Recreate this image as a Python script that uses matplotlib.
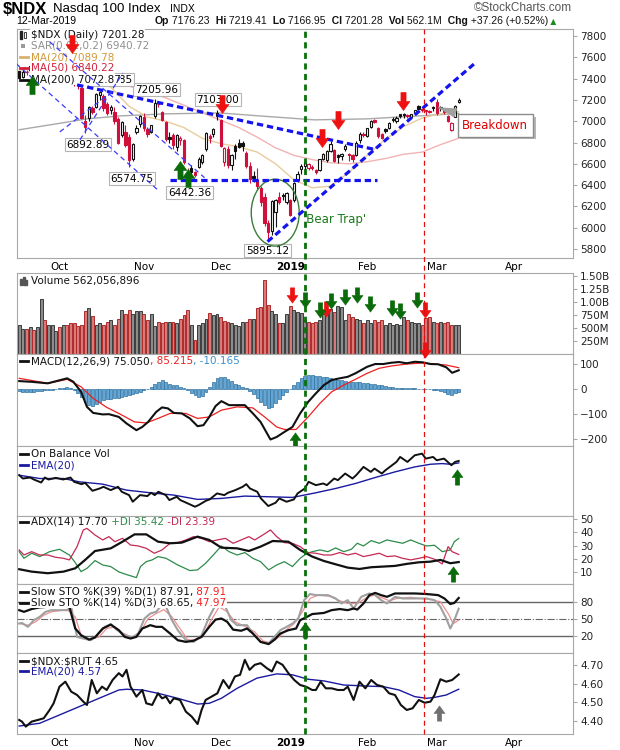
import numpy as np
import matplotlib
matplotlib.use("Agg")
import matplotlib.pyplot as plt
import matplotlib.transforms as mtransforms
import matplotlib.patheffects as pe
from matplotlib.lines import Line2D
from matplotlib.patches import Ellipse, Rectangle
from matplotlib.path import Path

plt.rcParams['font.family'] = ['DejaVu Sans']

# trading days 17-Sep-2018 .. 12-Mar-2019 -> index 0..120
opens = [7470, 7415, 7465, 7485, 7530, 7460, 7510, 7530, 7530, 7555,
         7650, 7630, 7640, 7620, 7510, 7370, 7350, 7310, 7000, 7030,
         7120, 7130, 7250, 7240, 7160, 7110, 7090, 7020, 6870, 6900,
         6850, 6650, 6900, 6970, 7040, 6930, 6900, 7050, 7165, 7090,
         6990, 6850, 6870, 6760, 6820, 6820, 6500, 6560, 6520, 6570,
         6620, 6740, 6860, 6880, 7080, 7010, 6620, 6740, 6590, 6770,
         6800, 6800, 6700, 6580, 6490, 6450, 6370, 6290, 6040, 5970,
         6150, 6290, 6310, 6240, 6260, 6260, 6450, 6550, 6580, 6560,
         6570, 6540, 6540, 6650, 6640, 6720, 6730, 6680, 6670, 6740,
         6690, 6680, 6680, 6820, 6880, 6860, 6950, 7010, 6940, 6880,
         6930, 6940, 7010, 7000, 7065, 7070, 7060, 7040, 7080, 7140,
         7115, 7095, 7100, 7120, 7180, 7130, 7110, 7050, 6920, 7040,
         7176.23]
highs = [7475, 7480, 7480, 7525, 7535, 7510, 7535, 7565, 7585, 7630,
         7670, 7650, 7680, 7625, 7530, 7380, 7355, 7320, 7060, 7140,
         7140, 7265, 7287.85, 7260, 7180, 7150, 7130, 7040, 7000, 6960,
         6880, 6800, 6960, 7060, 7080, 6945, 6965, 7205.96, 7185, 7100,
         7000, 6900, 6890, 6880, 6860, 6830, 6560, 6590, 6530, 6660,
         6690, 6895, 6880, 6935, 7103.00, 7020, 6760, 6770, 6690, 6790,
         6830, 6810, 6720, 6620, 6530, 6560, 6390, 6330, 6070, 6260,
         6270, 6340, 6330, 6340, 6270, 6430, 6530, 6600, 6640, 6610,
         6590, 6550, 6650, 6700, 6730, 6810, 6740, 6690, 6700, 6790,
         6700, 6690, 6810, 6900, 6900, 6940, 7010, 7020, 6945, 6890,
         6940, 6995, 7040, 7045, 7070, 7080, 7070, 7070, 7110, 7150,
         7125, 7110, 7110, 7145, 7210, 7140, 7115, 7060, 6990, 7150,
         7219.41]
lows = [7395, 7410, 7430, 7480, 7475, 7440, 7495, 7495, 7525, 7550,
        7605, 7585, 7620, 7480, 7380, 7330, 7300, 7020, 6892.89, 7000,
        7070, 7120, 7200, 7100, 7060, 7070, 6970, 6790, 6850, 6760,
        6574.75, 6630, 6880, 6950, 6910, 6850, 6890, 7030, 7130, 7000,
        6810, 6800, 6740, 6720, 6780, 6600, 6442.36, 6500, 6480, 6560,
        6600, 6720, 6800, 6850, 7010, 6760, 6580, 6560, 6540, 6650,
        6750, 6720, 6560, 6420, 6430, 6360, 6200, 6020, 5895.12, 5930,
        6010, 6220, 6260, 6220, 6110, 6240, 6430, 6500, 6550, 6540,
        6540, 6500, 6530, 6640, 6620, 6710, 6620, 6610, 6640, 6720,
        6630, 6620, 6670, 6800, 6850, 6850, 6940, 6980, 6840, 6830,
        6890, 6930, 6995, 6980, 7030, 7035, 7030, 7030, 7075, 7100,
        7090, 7060, 7075, 7100, 7060, 7100, 7070, 6990, 6910, 7040,
        7166.95]
closes = [7405, 7465, 7460, 7515, 7480, 7505, 7525, 7505, 7565, 7627,
          7640, 7620, 7645, 7510, 7430, 7360, 7340, 7030, 6945, 7130,
          7090, 7260, 7270, 7125, 7075, 7130, 7000, 6800, 6990, 6780,
          6640, 6790, 6935, 7050, 6940, 6880, 6960, 7175, 7160, 7010,
          6830, 6835, 6775, 6870, 6845, 6615, 6480, 6520, 6495, 6650,
          6680, 6890, 6840, 6930, 7050, 6770, 6750, 6590, 6680, 6720,
          6760, 6770, 6580, 6460, 6470, 6390, 6240, 6040, 5960, 6250,
          6265, 6240, 6300, 6330, 6120, 6420, 6500, 6580, 6620, 6600,
          6560, 6525, 6645, 6690, 6720, 6790, 6630, 6660, 6690, 6770,
          6680, 6650, 6800, 6880, 6870, 6935, 7005, 6995, 6860, 6845,
          6910, 6985, 7020, 7030, 7045, 7060, 7045, 7065, 7105, 7115,
          7108, 7100, 7090, 7130, 7080, 7120, 7085, 7005, 6980, 7145,
          7201.28]
volume_m = [555, 472, 485, 510, 460, 523, 1065, 663, 555, 555,
            440, 523, 567, 555, 587, 587, 535, 555, 829, 893,
            727, 555, 587, 567, 619, 650, 555, 682, 855, 765,
            855, 778, 823, 823, 778, 650, 778, 535, 619, 600,
            619, 606, 619, 600, 682, 746, 842, 555, 268, 567,
            600, 682, 797, 746, 778, 714, 631, 606, 587, 567,
            535, 606, 619, 682, 670, 893, 906, 1416, 938, 823,
            778, 587, 587, 778, 919, 842, 810, 791, 650, 619,
            587, 619, 650, 778, 778, 874, 810, 919, 906, 663,
            765, 714, 682, 663, 587, 650, 587, 650, 619, 650,
            555, 600, 555, 574, 555, 714, 663, 619, 587, 587,
            555, 695, 714, 619, 600, 606, 587, 606, 567, 567,
            562.06]

month_pos = [10, 33, 54, 73, 94, 113, 134]
month_lbl = ['Oct', 'Nov', 'Dec', '2019', 'Feb', 'Mar', 'Apr']

# moving averages on the price panel
ma20_x = [0, 5, 10, 15, 20, 25, 30, 35, 40, 45, 50, 55, 60, 65, 70, 75, 80, 85, 90, 95, 100, 105, 110, 115, 120]
ma20 = [7480, 7500, 7540, 7500, 7390, 7320, 7140, 7040, 7000, 6940, 6840, 6790, 6760, 6710, 6600, 6450,
        6375, 6390, 6520, 6680, 6830, 6950, 7030, 7070, 7089.78]
ma50_x = [0, 10, 20, 30, 40, 50, 55, 60, 65, 70, 75, 80, 85, 90, 95, 100, 105, 110, 115, 120]
ma50 = [7460, 7470, 7420, 7330, 7220, 7080, 7010, 6940, 6850, 6750, 6680, 6640, 6610, 6600, 6620, 6650,
        6690, 6710, 6780, 6840.22]
ma200_x = [0, 8.4, 18.5, 27.5, 39.7, 54.7, 65.6, 80.6, 94.8, 109.2, 120]
ma200 = [6920, 6966, 7022, 7050, 7069, 7078, 7050, 7013, 7022, 7050, 7072.87]

# MACD(12,26,9)
macd_x = [0, 3.4, 7.8, 13.1, 14.8, 16.9, 18.5, 20.2, 22.8, 24.5, 27.2, 29.3, 32.0, 33.6, 35.2, 37.4, 39.0,
          40.6, 42.2, 44.4, 46.6, 48.7, 50.3, 51.9, 53.6, 55.2, 57.3, 59.5, 61.6, 63.8, 65.9, 68.6, 70.3,
          72.4, 74.6, 76.7, 78.9, 81.0, 83.2, 85.3, 87.5, 89.7, 91.8, 93.4, 95.0, 97.2, 99.4, 101.5, 103.7,
          105.8, 108.0, 110.1, 112.3, 114.4, 116.6, 118.2, 120]
macd = [32, 29, 23, 43, 29, -11, -71, -95, -101, -100, -111, -137, -164, -151, -131, -91, -73, -77, -95,
        -97, -117, -148, -144, -111, -68, -48, -64, -64, -64, -97, -131, -201, -191, -171, -151, -97, -51,
        -17, 16, 36, 43, 49, 63, 76, 89, 100, 100, 105, 108, 103, 109, 107, 100, 99, 87, 65, 75.05]
signal_x = [0, 7.8, 13.1, 16.9, 20.2, 23.9, 27.2, 31.5, 34.7, 37.9, 41.2, 45.5, 48.7, 51.9, 55.2, 59.5,
            63.8, 67.0, 70.3, 72.4, 75.6, 78.9, 82.1, 85.3, 88.6, 91.8, 95.0, 98.3, 101.5, 105.8, 110.1,
            113.4, 116.6, 120]
signal = [43, 23, 39, 9, -37, -73, -97, -131, -135, -117, -97, -97, -117, -111, -84, -71, -75, -111, -151,
          -161, -161, -111, -57, -11, 16, 39, 63, 83, 92, 100, 104, 100, 96, 85.215]
hist = [-8, -10, -12, -12, -10, -8, -6, -5, -3, -2, 0, 3, 6,
        8, 5,
        -5, -15, -30, -50, -62, -68, -60,
        -50, -45, -40, -38, -35, -35, -30, -28, -25,
        -20, -15, -10, -5, 0, 8,
        20, 30, 36, 30, 22, 18, 15, 10, 5,
        -5, -15, -25, -30, -28,
        -10, 10, 30,
        45, 50, 48, 40, 32,
        22, 15, 10, 5,
        -8, -20, -35, -50, -65, -77, -72,
        -55, -40, -25, -12, 0,
        15, 30, 45, 52, 55, 55, 54, 53, 50, 48,
        45, 42, 38, 35, 33, 30, 30, 28, 27, 25,
        25, 22, 20, 18, 15, 12, 10, 8, 6, 5,
        5, 4, 3, 3, 2, 0, 0, -1,
        -3, -5, -8, -12, -18, -22, -15, -10.165]

# On Balance Volume (relative units) and its EMA(20)
obv_x = [0, 1, 3, 4, 6, 7, 8, 10, 12, 14, 15, 17, 18, 20, 22, 23, 25, 27, 28, 30, 31, 33, 35, 36, 37, 38,
         40, 41, 43, 44, 46, 48, 49, 51, 52, 54, 56, 57, 59, 61, 62, 63, 65, 66, 68, 70, 71, 73, 75, 76,
         78, 79, 81, 83, 84, 86, 87, 89, 91, 92, 94, 96, 97, 99, 100, 103, 104, 106, 108, 110, 111, 113,
         114, 116, 118, 119, 120]
obv = [123, 113, 116, 110, 101, 116, 110, 115, 110, 116, 103, 96, 100, 76, 83, 88, 78, 88, 73, 63,
       43, 63, 60, 70, 63, 73, 63, 48, 58, 48, 38, 28, 33, 46, 50, 68, 63, 70, 78, 88,
       96, 83, 73, 53, 30, 40, 53, 43, 50, 68, 83, 103, 93, 98, 93, 113, 108, 128, 113, 123,
       148, 133, 143, 128, 138, 163, 178, 163, 183, 188, 173, 178, 168, 173, 153, 163, 166]
obv_ema_x = [0, 5.6, 12.1, 16.4, 22.8, 29.3, 35.8, 42.2, 48.7, 55.2, 61.6, 68.1, 74.6, 77.8, 81.0, 86.4,
             91.8, 97.2, 102.6, 108.0, 112.3, 115.5, 117.7, 120]
obv_ema = [123, 113, 113, 103, 96, 78, 70, 63, 50, 53, 60, 58, 56, 63, 70, 83, 98, 116, 133, 148, 156,
           158, 156, 160]

# ADX(14)
adx_x = [0, 3.4, 7.8, 12.1, 15.3, 18.0, 20.7, 25.0, 28.2, 31.5, 34.7, 37.9, 41.2, 44.4, 48.7, 51.9, 55.2,
         59.5, 62.7, 65.9, 69.2, 73.5, 76.7, 80.0, 83.2, 86.4, 89.7, 92.9, 96.1, 99.4, 102.6, 105.8, 109.1,
         112.3, 115.0, 117.7, 120]
adx = [12.3, 10.5, 9.3, 10.5, 13, 19.3, 26, 28, 33, 38.5, 38.5, 33, 31.8, 32.3, 36.8, 34.3, 28.5, 28, 26,
       29.3, 33.5, 33, 26.8, 21.8, 18.5, 16, 13.5, 12.5, 13.8, 14.3, 14.8, 16.3, 17.5, 18, 19.3, 16.8, 17.7]
pdi_x = [0, 1.3, 3.4, 5.6, 8.3, 11.0, 13.7, 15.3, 16.9, 18.5, 20.7, 22.8, 25.0, 27.2, 29.3, 32.0, 33.1,
         34.7, 36.3, 37.9, 40.1, 43.3, 46.6, 48.7, 50.9, 53.0, 55.2, 57.3, 59.5, 61.6, 63.8, 65.9, 68.1,
         70.3, 72.4, 74.6, 76.7, 78.3, 80.0, 82.1, 84.3, 86.4, 88.6, 90.7, 92.3, 94.0, 96.1, 98.3, 100.4,
         102.6, 104.7, 106.9, 109.1, 111.2, 113.4, 115.5, 117.7, 118.8, 120]
pdi = [25.5, 20.5, 24.3, 21.8, 25.5, 27.3, 23, 17.3, 10.5, 13, 18.8, 15.5, 14.3, 10.3, 8.3, 6, 14.3, 18,
       19.3, 21.8, 20.5, 15.5, 11.3, 11.8, 16.8, 23, 29.8, 25.5, 23, 24.8, 20.5, 18, 11.8, 15.5, 18, 14.3,
       20.5, 23.8, 25.5, 26.8, 25.5, 28.3, 25.5, 27.3, 31.8, 29.8, 33.8, 31.8, 34.3, 33, 31.8, 34.3, 31.8,
       29.8, 30.3, 25.5, 26.8, 33, 35.42]
mdi_x = [0, 1.3, 3.4, 5.6, 7.8, 9.9, 12.1, 13.7, 15.8, 17.5, 18.5, 20.7, 22.8, 24.5, 26.1, 28.2, 30.4,
         32.5, 34.7, 36.9, 39.0, 41.2, 43.3, 45.5, 47.6, 49.8, 51.9, 54.1, 56.3, 58.4, 60.6, 62.7, 64.3,
         66.5, 68.6, 70.3, 72.4, 74.6, 76.7, 78.9, 81.0, 83.2, 85.3, 87.5, 89.7, 91.8, 94.0, 96.1, 98.3,
         100.4, 102.6, 104.7, 106.9, 109.1, 111.2, 113.4, 115.5, 117.1, 118.2, 120]
mdi = [26.8, 23, 25.5, 23, 23, 21.3, 20.5, 19.3, 29.3, 41.8, 43, 38, 34.3, 36.8, 33, 35.5, 30.5, 29.8, 28,
       24.3, 26.8, 31.8, 32.3, 34.3, 36.8, 35.5, 33, 34.3, 35.5, 31.8, 34.3, 36.8, 34.3, 38, 41.8, 36.8,
       32.3, 31.8, 29.3, 24.8, 24.3, 23, 23, 24.8, 23, 24.3, 21.8, 23, 24.3, 21.8, 22.3, 20.5, 19.3, 20.5,
       21.8, 19.8, 16.3, 29.3, 25.5, 23.39]

# Slow stochastics
sto39_x = [0, 1.3, 3.4, 5.6, 7.8, 9.4, 11.0, 13.7, 15.3, 16.9, 19.1, 20.7, 22.8, 25.0, 27.2, 28.8, 30.4,
           32.0, 33.6, 35.8, 37.4, 39.0, 41.2, 43.3, 45.5, 47.6, 49.8, 51.9, 53.6, 55.2, 56.8, 58.4, 60.6,
           62.2, 63.8, 65.9, 68.1, 69.7, 71.3, 73.5, 75.6, 76.7, 78.3, 80.0, 81.6, 83.2, 85.3, 87.5, 89.7,
           91.3, 92.3, 94.0, 95.6, 97.2, 98.8, 100.4, 101.5, 102.6, 108.0, 111.2, 114.4, 116.1, 117.7,
           118.8, 120]
sto39 = [66, 63, 68, 71, 72, 73, 78, 72, 33, 21, 13, 17, 33, 40, 30, 18, 15, 18, 33, 39, 36, 36, 24, 12, 9,
         11, 18, 36, 49, 51, 45, 31, 29, 33, 24, 9, 5, 13, 24, 30, 33, 48, 53, 59, 60, 61, 66, 68, 66, 69,
         67, 78, 93, 97, 93, 90, 93, 96, 96, 95, 93, 87, 77, 79, 87.91]
sto14_x = [0, 0.75, 2.4, 4.0, 5.6, 7.2, 8.8, 13.1, 14.2, 15.8, 17.5, 19.6, 21.2, 23.4, 25.0, 26.6, 28.8,
           30.9, 32.5, 34.2, 35.8, 37.4, 38.5, 40.1, 41.7, 43.3, 45.5, 47.6, 49.8, 51.9, 53.6, 54.6, 56.3,
           57.9, 59.5, 62.2, 63.8, 65.9, 68.1, 69.7, 71.3, 73.0, 74.6, 76.2, 77.8, 79.4, 81.0, 84.3, 86.4,
           88.0, 89.7, 91.3, 93.4, 95.6, 97.2, 98.8, 100.4, 102.6, 104.7, 109.1, 111.2, 113.4, 115.0,
           116.6, 117.7, 118.8, 120]
sto14 = [42, 43, 36, 48, 54, 63, 66, 66, 72, 18, 15, 12, 21, 36, 41, 31, 21, 17, 24, 51, 60, 63, 72, 72,
         48, 30, 12, 9, 21, 54, 75, 81, 72, 48, 39, 39, 24, 9, 6, 18, 30, 36, 42, 51, 84, 95, 93, 93, 87,
         78, 84, 69, 90, 96, 93, 84, 78, 90, 87, 87, 87, 84, 72, 51, 33, 48, 68.65]
sto14d_x = [0, 2.4, 4.5, 6.7, 8.8, 13.1, 15.3, 16.9, 19.1, 21.8, 23.9, 26.1, 28.2, 30.9, 33.1, 35.2,
            37.4, 39.5, 41.7, 43.9, 46.0, 48.2, 50.3, 52.5, 54.6, 56.8, 58.9, 61.6, 64.3, 66.5, 68.6,
            70.8, 73.0, 75.1, 77.3, 79.4, 81.6, 84.8, 87.5, 89.7, 92.3, 94.5, 96.7, 98.8, 101.0, 103.1,
            106.9, 112.3, 115.0, 117.1, 118.5, 120]
sto14d = [42, 39, 45, 57, 63, 67, 54, 21, 13, 18, 33, 36, 25, 17, 27, 51, 60, 67, 54, 33, 13, 12, 21, 49,
          72, 63, 45, 37, 27, 11, 7, 17, 31, 42, 63, 87, 93, 91, 83, 78, 78, 87, 93, 89, 83, 87, 89, 85,
          81, 60, 42, 47.97]

# $NDX:$RUT ratio
ratio_x = [0, 0.75, 1.8, 3.4, 5.1, 6.7, 8.3, 9.4, 11.0, 12.6, 14.2, 15.8, 17.5, 18.5, 19.8, 21.2, 22.6,
           23.9, 25.5, 27.2, 28.2, 29.3, 30.4, 32.0, 33.6, 34.7, 36.3, 37.9, 39.0, 40.1, 41.2, 42.2, 43.9,
           45.5, 47.1, 48.7, 49.8, 50.9, 52.5, 54.1, 55.7, 57.3, 58.9, 60.3, 61.6, 62.9, 64.3, 65.9, 67.6,
           69.0, 70.3, 71.9, 73.5, 75.1, 76.7, 78.3, 80.0, 81.0, 82.3, 83.7, 85.3, 87.0, 88.6, 89.7, 91.3,
           92.9, 94.5, 96.1, 97.7, 99.4, 101.0, 102.6, 104.2, 105.8, 107.4, 109.1, 110.7, 112.3, 113.4,
           115.0, 116.6, 118.2, 120]
ratio = [4.404, 4.395, 4.368, 4.395, 4.404, 4.413, 4.458, 4.494, 4.584, 4.611, 4.557, 4.539, 4.503, 4.485,
         4.620, 4.548, 4.584, 4.566, 4.620, 4.657, 4.639, 4.675, 4.584, 4.530, 4.566, 4.494, 4.485, 4.548,
         4.521, 4.530, 4.494, 4.521, 4.512, 4.449, 4.422, 4.382, 4.458, 4.512, 4.530, 4.548, 4.620, 4.575,
         4.639, 4.648, 4.729, 4.675, 4.702, 4.711, 4.684, 4.666, 4.720, 4.702, 4.657, 4.620, 4.593, 4.584,
         4.566, 4.566, 4.611, 4.575, 4.575, 4.566, 4.566, 4.584, 4.512, 4.611, 4.575, 4.620, 4.593, 4.584,
         4.548, 4.539, 4.485, 4.458, 4.467, 4.512, 4.497, 4.503, 4.539, 4.624, 4.611, 4.620, 4.65]
ratio_ema_x = [0, 5.6, 11.0, 16.4, 21.8, 27.2, 29.3, 33.6, 37.9, 43.3, 48.7, 51.9, 55.2, 59.5, 64.9, 70.3,
               74.6, 78.9, 83.2, 88.6, 94.0, 99.4, 103.7, 108.0, 111.2, 113.4, 116.6, 120]
ratio_ema = [4.371, 4.386, 4.431, 4.476, 4.521, 4.566, 4.570, 4.566, 4.548, 4.521, 4.490, 4.494, 4.521,
             4.575, 4.630, 4.653, 4.648, 4.624, 4.615, 4.593, 4.588, 4.584, 4.566, 4.530, 4.521, 4.526,
             4.539, 4.57]

# chart annotations (day index, price)
thick_lines = [((15.8, 7341), (97.5, 6732)), ((67.8, 5870), (124.5, 7547)), ((41.1, 6451), (97.8, 6451))]
thin_lines = [((-4.4, 7650), (38.4, 6338)), ((8.4, 7744), (50.6, 6470)),
              ((16.6, 6826), (28.3, 7453)), ((11.1, 6900), (26.0, 7294))]
price_labels = [(18.7, 6779, '6892.89'), (30.7, 6460, '6574.75'), (46.5, 6329, '6442.36'),
                (67.8, 5785, '5895.12'), (37.5, 7294, '7205.96'), (54.2, 7200, '7103.00'),
                (25.0, 7388, '7287.85')]
green_vline, red_vline = 78.1, 110.6

down = np.array(closes) < np.r_[closes[0], closes[:-1]]
idx = np.arange(len(closes))

W, H = 620, 750
fig = plt.figure(figsize=(W / 100, H / 100), dpi=100)


def panel(top, bottom):
    ax = fig.add_axes([17 / W, 1 - bottom / H, 556 / W, (bottom - top) / H])
    ax.set_xlim(-0.6, 151.2)
    for s in ax.spines.values():
        s.set_color('#a8a8a8')
    ax.yaxis.tick_right()
    ax.tick_params(axis='y', labelsize=7.5, length=3, color='#a8a8a8', labelcolor='#222222', pad=2)
    ax.tick_params(axis='x', length=0, labelsize=7.5, pad=3)
    ax.set_xticks([])
    return ax


ax_p = panel(29, 258)
ax_v = panel(273, 354)
ax_m = panel(354, 446)
ax_o = panel(446, 516)
ax_a = panel(516, 584)
ax_s = panel(584, 653)
ax_r = panel(653, 734)

for ax in (ax_p, ax_r):
    ax.set_xticks(np.array(month_pos) + 1)
    ax.set_xticklabels(month_lbl)
    ax.get_xticklabels()[3].set_fontweight('bold')


def chain(ax, x, y, parts, size=7.5, bg=True, family=None, z=8):
    kw = dict(fontsize=size, zorder=z)
    if family:
        kw['family'] = family
    box = dict(fc='white', ec='none', pad=0.4) if bg else None
    s, c, w = parts[0]
    prev = ax.text(x / W, 1 - y / H, s, color=c, fontweight=w, transform=fig.transFigure,
                   va='center', ha='left', bbox=box, **kw)
    for s, c, w in parts[1:]:
        prev = ax.annotate(s, xy=(1, 0), xycoords=prev, va='bottom', ha='left', color=c,
                           fontweight=w, annotation_clip=False, bbox=box, **kw)
    return prev


def icon_line(y, color, lw=2.0):
    fig.add_artist(Line2D([20 / W, 28 / W], [1 - y / H] * 2, color=color, lw=lw))


# arrow markers
dverts = [(-0.2, 0.7), (0.2, 0.7), (0.2, 0.0), (0.5, 0.0), (0.0, -0.7), (-0.5, 0.0), (-0.2, 0.0), (-0.2, 0.7)]
down_arrow = Path(dverts, closed=True)
up_arrow = Path([(vx, -vy) for vx, vy in dverts], closed=True)
RED, GREEN = '#ee1111', '#0a6b0a'


def arrows(ax, xs, ys, marker, color, ms=11):
    ax.plot(xs, ys, ls='none', marker=marker, ms=ms, mfc=color, mec=color, mew=0.4,
            zorder=9, clip_on=False)


# ---------------- price panel ----------------
ax_p.plot(ma200_x, ma200, color='#a9a9a9', lw=1.0, zorder=2)
ax_p.plot(ma50_x, ma50, color='#f2b3b3', lw=1.0, zorder=2)
ax_p.plot(ma20_x, ma20, color='#e9cc9c', lw=1.0, zorder=2)

o, h, l, c = map(np.array, (opens, highs, lows, closes))
edge = np.where(down, '#d0103a', '#111111')
fill = np.where(c > o, 'white', edge)
ax_p.vlines(idx, l, h, colors=edge, lw=0.8, zorder=3)
ax_p.bar(idx, np.maximum(np.abs(c - o), 6), bottom=np.minimum(o, c), width=0.62,
         color=fill, edgecolor=edge, linewidth=0.8, zorder=3)
ax_p.set_ylim(5716, 7866)
ax_p.set_yticks(np.arange(5800, 7801, 200))

for (x0, y0), (x1, y1) in thick_lines:
    ax_p.plot([x0, x1], [y0, y1], color='#1414f0', lw=2.3, ls=(0, (2.0, 1.2)), zorder=7)
for (x0, y0), (x1, y1) in thin_lines:
    ax_p.plot([x0, x1], [y0, y1], color='#3a3aff', lw=0.9, ls=(0, (4, 3)), zorder=7)

for x, y, s in price_labels:
    ax_p.text(x, y, s, ha='center', va='center', fontsize=7.5, zorder=4.5,
              bbox=dict(boxstyle='square,pad=0.15', fc='white', ec='#b5b5b5', lw=0.8))

ax_p.add_patch(Ellipse((69.9, 6142), 13.1, 628, fill=False, ec='#3a7d3a', lw=1.0, zorder=6))
ax_p.text(77.4, 6076, "'Bear Trap'", color='#1a7a1a', fontsize=8.5, va='center', ha='left', zorder=6)

bd = ax_p.annotate('Breakdown', xy=(113.8, 7135), xytext=(130, 6961), ha='center', va='center',
                   color='#e00000', fontsize=8.5, zorder=8,
                   bbox=dict(boxstyle='square,pad=0.4', fc='white', ec='#8c8c8c', lw=1),
                   arrowprops=dict(arrowstyle='wedge,tail_width=0.7,shrink_factor=0.4',
                                   fc='#a0a0a0', ec='#a0a0a0'))
bd.get_bbox_patch().set_path_effects([pe.withSimplePatchShadow(offset=(2, -2), alpha=0.4)])

arrows(ax_p, [14.4, 55.5, 82.8, 87.1, 104.8], [7725, 7163, 6844, 7013, 7191], down_arrow, RED, 13)
arrows(ax_p, [3.5, 43.8, 46.0], [7341, 6544, 6470], up_arrow, GREEN, 13)

leg = [('$NDX (Daily) 7201.28', '#111111', 35), ('SAR(0.02,0.2) 6940.72', '#909090', 46),
       ('MA(20) 7089.78', '#d09a3a', 57), ('MA(50) 6840.22', '#d0203a', 68),
       ('MA(200) 7072.87', '#111111', 79.5)]
for s, col, y in leg:
    chain(ax_p, 31, y, [(s, col, 'normal')], z=6)
fig.add_artist(Rectangle((20 / W, 1 - 39 / H), 2 / W, 8 / H, color='#222222'))
fig.add_artist(Rectangle((24 / W, 1 - 38 / H), 2 / W, 6 / H, fc='white', ec='#222222', lw=0.6))
fig.add_artist(Rectangle((21 / W, 1 - 48 / H), 4 / W, 4 / H, fc='#9a9a9a', ec='none'))
icon_line(57, '#d9b070')
icon_line(68, '#d0203a')
icon_line(79.5, '#111111')

# ---------------- volume ----------------
vcol = np.where(down, '#d97a7a', '#8c8c8c')
vedge = np.where(down, '#b02a2a', '#3c3c3c')
ax_v.bar(idx, np.array(volume_m) * 1e6, width=0.8, color=vcol, edgecolor=vedge, linewidth=0.7)
ax_v.set_ylim(0, 1.557e9)
ax_v.set_yticks([250e6, 500e6, 750e6, 1.0e9, 1.25e9, 1.5e9])
ax_v.set_yticklabels(['250M', '500M', '750M', '1.00B', '1.25B', '1.50B'])
chain(ax_v, 31, 281, [('Volume 562,056,896', '#111111', 'normal')], bg=False)
for k, hh in enumerate([6, 8, 5]):
    fig.add_artist(Rectangle(((20 + 2.6 * k) / W, 1 - 285 / H), 2 / W, hh / H, color='#555555'))
arrows(ax_v, [74.4, 83.9, 110.7], [1130e6, 862e6, 843e6], down_arrow, RED)
arrows(ax_v, [78.1, 82.0, 85.2, 88.9, 92.2, 95.9, 101.9, 104.0, 108.6],
       [1035e6, 843e6, 1015e6, 1092e6, 1130e6, 958e6, 881e6, 824e6, 1035e6], down_arrow, GREEN)

# ---------------- MACD ----------------
ax_m.bar(idx, hist, width=0.8, color='#62a6d6', edgecolor='#2f6f9f', linewidth=0.5)
ax_m.plot(signal_x, signal, color='#ee2020', lw=0.9)
ax_m.plot(macd_x, macd, color='#111111', lw=1.5)
ax_m.set_ylim(-227, 140)
ax_m.set_yticks([-200, -100, 0, 100])
chain(ax_m, 31, 361, [('MACD(12,26,9) 75.050', '#111111', 'normal'), (', 85.215', '#ee2020', 'normal'),
                      (', -10.165', '#3a8fc8', 'normal')], bg=False)
icon_line(361, '#111111')
arrows(ax_m, [110.7], [156], down_arrow, RED)
arrows(ax_m, [75.2], [-204], up_arrow, GREEN)

# ---------------- OBV ----------------
ax_o.plot(obv_ema_x, obv_ema, color='#1a1aa0', lw=1.0)
ax_o.plot(obv_x, obv, color='#111111', lw=1.4)
ax_o.set_ylim(0, 211)
ax_o.set_yticks([])
chain(ax_o, 31, 454, [('On Balance Vol', '#111111', 'normal')], bg=False)
chain(ax_o, 31, 465, [('EMA(20)', '#1a1aa0', 'normal')], bg=False)
icon_line(454, '#111111')
icon_line(465, '#1a1aa0')
arrows(ax_o, [119.6], [117], up_arrow, GREEN)

# ---------------- ADX ----------------
ax_a.plot(pdi_x, pdi, color='#2e8b4a', lw=0.9)
ax_a.plot(mdi_x, mdi, color='#c42a55', lw=0.9)
ax_a.plot(adx_x, adx, color='#111111', lw=1.6)
ax_a.set_ylim(1.2, 52.3)
ax_a.set_yticks([10, 20, 30, 40, 50])
chain(ax_a, 31, 522, [('ADX(14) 17.70', '#111111', 'normal'), (' +DI 35.42', '#2e8b4a', 'normal'),
                      (' -DI 23.39', '#c42a55', 'normal')], bg=False)
icon_line(522, '#111111')
arrows(ax_a, [118.5], [8.7], up_arrow, GREEN)

# ---------------- Slow STO ----------------
ax_s.axhline(80, color='#666666', lw=1.0)
ax_s.axhline(20, color='#666666', lw=1.0)
ax_s.axhline(50, color='#666666', lw=0.8, ls='-.')
ax_s.plot(sto14d_x, sto14d, color='#f09090', lw=0.9)
ax_s.plot(sto14_x, sto14, color='#a0a0a0', lw=1.5)
ax_s.plot(sto39_x, sto39, color='#111111', lw=1.6)
ax_s.set_ylim(-11, 113)
ax_s.set_yticks([20, 50, 80])
chain(ax_s, 31, 592, [('Slow STO %K(39) %D(1) 87.91,', '#111111', 'normal'), (' 87.91', '#ee2020', 'normal')])
chain(ax_s, 31, 602.5, [('Slow STO %K(14) %D(3) 68.65,', '#111111', 'normal'), (' 47.97', '#ee2020', 'normal')])
icon_line(592, '#111111')
icon_line(602.5, '#111111')
arrows(ax_s, [78.1], [30], up_arrow, GREEN)

# ---------------- $NDX:$RUT ----------------
ax_r.plot(ratio_ema_x, ratio_ema, color='#1a1aa0', lw=1.0)
ax_r.plot(ratio_x, ratio, color='#111111', lw=1.5)
ax_r.set_ylim(4.328, 4.766)
ax_r.set_yticks([4.40, 4.50, 4.60, 4.70])
ax_r.set_yticklabels(['4.40', '4.50', '4.60', '4.70'])
chain(ax_r, 31, 661, [(r'\$NDX:\$RUT 4.65', '#111111', 'normal')], bg=False)
chain(ax_r, 31, 671, [('EMA(20) 4.57', '#1a1aa0', 'normal')], bg=False)
icon_line(661, '#111111')
icon_line(671, '#1a1aa0')
arrows(ax_r, [114.7], [4.442], up_arrow, '#707070')

# ---------------- vertical marker lines across all panels ----------------
trans = mtransforms.blended_transform_factory(ax_p.transData, fig.transFigure)
fig.add_artist(Line2D([green_vline] * 2, [1 - 734 / H, 1 - 29 / H], transform=trans,
                      color='#0a700a', lw=2.0, ls=(0, (2.2, 1.6))))
fig.add_artist(Line2D([red_vline] * 2, [1 - 734 / H, 1 - 29 / H], transform=trans,
                      color='#e01010', lw=0.9, ls=(0, (4, 3))))

# ---------------- header ----------------
hf = 'Liberation Sans'
fig.text(3 / W, 1 - 9 / H, '$NDX', fontsize=12, fontweight='bold', family=hf, va='center')
fig.text(53 / W, 1 - 9 / H, 'Nasdaq 100 Index', fontsize=9.5, family=hf, va='center')
fig.text(170 / W, 1 - 9.5 / H, 'INDX', fontsize=7.5, family=hf, va='center')
fig.text(572 / W, 1 - 8 / H, '\u00a9StockCharts.com', fontsize=8.5, family=hf, color='#555555',
         ha='right', va='center')
fig.text(16 / W, 1 - 21 / H, '12-Mar-2019', fontsize=7.5, family=hf, va='center')
hdr = [('Op', '#111111', 'bold'), (' 7176.23', '#111111', 'normal'), ('  Hi', '#111111', 'bold'),
       (' 7219.41', '#111111', 'normal'), ('  Lo', '#111111', 'bold'), (' 7166.95', '#111111', 'normal'),
       ('  Cl', '#111111', 'bold'), (' 7201.28', '#111111', 'normal'), ('  Vol', '#111111', 'bold'),
       (' 562.1M', '#111111', 'normal'), ('  Chg', '#111111', 'bold'),
       (' +37.26 (+0.52%)', '#111111', 'normal')]
last = chain(ax_p, 155, 21, hdr, size=7.5, bg=False, family=hf)
ax_p.annotate(' \u25b2', xy=(1, 0), xycoords=last, va='bottom', ha='left', color='#1a8a1a',
              fontsize=5.5, annotation_clip=False)

fig.savefig('out.png', dpi=100, facecolor='white')
